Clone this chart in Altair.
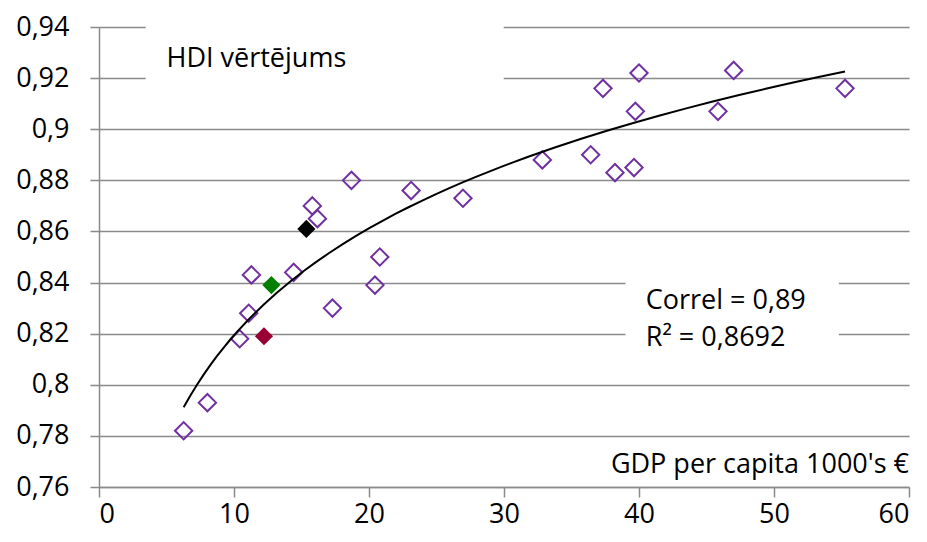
import altair as alt
import pandas as pd

# GDP per capita (1000's EUR) and HDI values
gdp_open = [6.27, 8.03, 10.42, 11.09, 11.29, 14.42, 15.80, 16.18, 17.29, 18.70,
            20.44, 20.80, 23.12, 26.96, 32.84, 36.42, 37.33, 38.22, 39.63, 39.73,
            40.00, 45.85, 47.01, 55.26]
hdi_open = [0.782, 0.793, 0.818, 0.828, 0.843, 0.844, 0.870, 0.865, 0.830, 0.880,
            0.839, 0.850, 0.876, 0.873, 0.888, 0.890, 0.916, 0.883, 0.885, 0.907,
            0.922, 0.907, 0.923, 0.916]

gdp_hl = [15.36, 12.77, 12.22]
hdi_hl = [0.861, 0.839, 0.819]
hl_names = ["A", "B", "C"]
hl_colors = ["#000000", "#008000", "#990033"]

x_ticks = [0, 10, 20, 30, 40, 50, 60]
y_ticks = [0.76, 0.78, 0.80, 0.82, 0.84, 0.86, 0.88, 0.90, 0.92, 0.94]

ann_text = ["HDI vērtējums", "Correl = 0,89", "R² = 0,8692", "GDP per capita 1000's €"]
ann_x = [5.0, 40.5, 40.5, 60.0]
ann_y = [0.9245, 0.8297, 0.8150, 0.7656]
ann_align = ["left", "left", "left", "right"]

box_x = [3.46, 39.0]
box_x2 = [29.98, 54.8]
box_y = [0.912, 0.811]
box_y2 = [0.945, 0.849]

FONT = "Open Sans"
GRID = "#8a8a8a"

open_df = pd.DataFrame({"gdp": gdp_open, "hdi": hdi_open})
hl_df = pd.DataFrame({"gdp": gdp_hl, "hdi": hdi_hl, "name": hl_names})
all_df = pd.DataFrame({"gdp": gdp_open + gdp_hl, "hdi": hdi_open + hdi_hl})
ann_df = pd.DataFrame({"t": ann_text, "x": ann_x, "y": ann_y, "a": ann_align})
box_df = pd.DataFrame({"x": box_x, "x2": box_x2, "y": box_y, "y2": box_y2})

xs = alt.Scale(domain=[0, 60], nice=False, zero=False)
ys = alt.Scale(domain=[0.76, 0.94], nice=False, zero=False)

x_axis = alt.Axis(values=x_ticks, title=None, grid=False, labelFont=FONT,
                  labelFontSize=27, labelColor="#000000", tickSize=10,
                  tickColor=GRID, tickWidth=1.5, domainColor=GRID, domainWidth=1.5,
                  labelPadding=4)
y_axis = alt.Axis(values=y_ticks, title=None, grid=True, gridColor=GRID,
                  gridWidth=1.5, labelFont=FONT, labelFontSize=27,
                  labelColor="#000000", tickSize=9, tickColor=GRID, tickWidth=1.5,
                  domainColor=GRID, domainWidth=1.5, labelPadding=21,
                  labelExpr="replace(format(datum.value, '.2~f'), '.', ',')")

base_axes = alt.Chart(open_df).mark_point(opacity=0).encode(
    x=alt.X("gdp:Q", scale=xs, axis=x_axis),
    y=alt.Y("hdi:Q", scale=ys, axis=y_axis),
)

boxes = alt.Chart(box_df).mark_rect(color="white", clip=False).encode(
    x=alt.X("x:Q", scale=xs), x2="x2:Q",
    y=alt.Y("y:Q", scale=ys), y2="y2:Q",
)

open_pts = alt.Chart(open_df).mark_point(
    shape="diamond", filled=False, color="#7030A0", strokeWidth=2, size=300, opacity=1
).encode(x=alt.X("gdp:Q", scale=xs), y=alt.Y("hdi:Q", scale=ys))

hl_pts = alt.Chart(hl_df).mark_point(
    shape="diamond", filled=True, size=330, opacity=1
).encode(
    x=alt.X("gdp:Q", scale=xs), y=alt.Y("hdi:Q", scale=ys),
    color=alt.Color("name:N", scale=alt.Scale(domain=hl_names, range=hl_colors), legend=None),
)

trend = alt.Chart(all_df).transform_regression(
    "gdp", "hdi", method="log"
).mark_line(color="#000000", strokeWidth=2).encode(
    x=alt.X("gdp:Q", scale=xs), y=alt.Y("hdi:Q", scale=ys)
)

texts_left = alt.Chart(ann_df[ann_df.a == "left"]).mark_text(
    font=FONT, fontSize=27, color="#000000", baseline="alphabetic", align="left"
).encode(x=alt.X("x:Q", scale=xs), y=alt.Y("y:Q", scale=ys), text="t:N")

texts_right = alt.Chart(ann_df[ann_df.a == "right"]).mark_text(
    font=FONT, fontSize=27, color="#000000", baseline="alphabetic", align="right"
).encode(x=alt.X("x:Q", scale=xs), y=alt.Y("y:Q", scale=ys), text="t:N")

chart = alt.layer(
    base_axes, boxes, open_pts, hl_pts, trend, texts_left, texts_right
).properties(
    width=810, height=460,
    background="white",
    autosize=alt.AutoSizeParams(type="none"),
    padding={"left": 91, "top": 19, "right": 10, "bottom": 47},
).configure_view(stroke=None)

chart.save("out.html", embed_options={"renderer": "svg", "actions": False})
